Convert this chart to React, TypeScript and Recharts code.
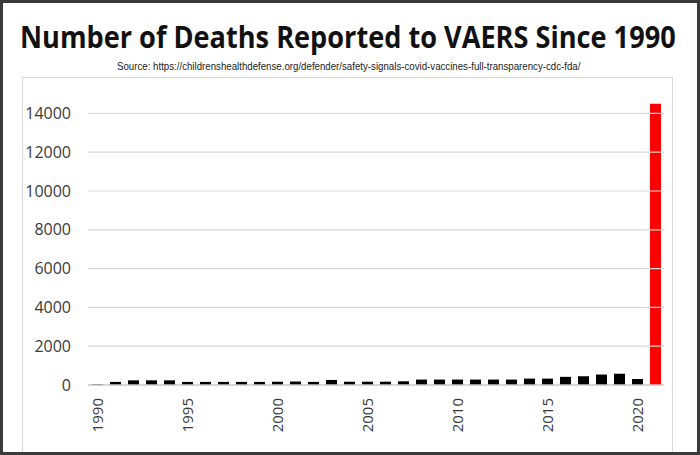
import React, { useLayoutEffect, useRef, useState } from 'react';
import { BarChart, Bar, XAxis, YAxis, ReferenceLine, Cell } from 'recharts';

const years = [
  '1990', '1991', '1992', '1993', '1994', '1995', '1996', '1997', '1998', '1999',
  '2000', '2001', '2002', '2003', '2004', '2005', '2006', '2007', '2008', '2009',
  '2010', '2011', '2012', '2013', '2014', '2015', '2016', '2017', '2018', '2019',
  '2020', '2021',
];
const deaths = [
  40, 160, 240, 240, 240, 160, 160, 160, 160, 160,
  170, 180, 160, 260, 170, 170, 170, 190, 280, 280,
  280, 280, 280, 280, 330, 330, 420, 450, 540, 580,
  310, 14500,
];
const yTicks = [0, 2000, 4000, 6000, 8000, 10000, 12000, 14000];
const labeledYears = ['1990', '1995', '2000', '2005', '2010', '2015', '2020'];
const highlightYear = '2021';

const data = years.map((year, i) => ({ year, deaths: deaths[i] }));

const XTick = (props: any) => {
  const { x, y, payload } = props;
  if (!labeledYears.includes(payload.value)) return <g />;
  const ty = y + 13;
  return (
    <text
      x={x + 1}
      y={ty}
      transform={`rotate(-90, ${x + 1}, ${ty})`}
      textAnchor="end"
      dy="0.36em"
      fill="#3a3a3a"
      fontFamily="'Open Sans', sans-serif"
      fontSize={15}
    >
      {payload.value}
    </text>
  );
};

const FitText = (props: any) => {
  const { x, y, width, children, ...rest } = props;
  const ref = useRef<SVGTextElement>(null);
  const [sx, setSx] = useState(1);
  useLayoutEffect(() => {
    if (ref.current) {
      const len = ref.current.getComputedTextLength();
      if (len > 0) setSx(width / len);
    }
  }, [width]);
  return (
    <text ref={ref} transform={`translate(${x}, ${y}) scale(${sx}, 1)`} x={0} y={0} {...rest}>
      {children}
    </text>
  );
};

export default function App() {
  return (
    <div
      style={{
        position: 'absolute',
        left: 0,
        top: 0,
        width: 700,
        height: 455,
        background: '#fff',
        overflow: 'hidden',
      }}
    >
      <div
        style={{
          position: 'absolute',
          left: 22,
          top: 77,
          width: 651,
          height: 400,
          border: '1.5px solid #d9d9d9',
          boxSizing: 'border-box',
        }}
      />
      <svg
        width={700}
        height={90}
        style={{ position: 'absolute', left: 0, top: 0 }}
      >
        <FitText
          x={20}
          y={48}
          width={656}
          fontFamily="'Open Sans', sans-serif"
          fontWeight={700}
          fontSize={31}
          fill="#111"
        >
          Number of Deaths Reported to VAERS Since 1990
        </FitText>
        <FitText
          x={117}
          y={70}
          width={464}
          fontFamily="'Liberation Sans', Arial, sans-serif"
          fontSize={10.5}
          fill="#222"
        >
          Source: https://childrenshealthdefense.org/defender/safety-signals-covid-vaccines-full-transparency-cdc-fda/
        </FitText>
      </svg>
      <div style={{ position: 'absolute', left: 0, top: 0 }}>
        <BarChart
          width={700}
          height={455}
          data={data}
          margin={{ top: 94, right: 36, bottom: 0, left: 28 }}
          barSize={11}
        >
          {yTicks.slice(1).map((v) => (
            <ReferenceLine key={v} y={v} stroke="#d9d9d9" strokeWidth={1.2} />
          ))}
          <XAxis
            dataKey="year"
            interval={0}
            height={70}
            tickLine={false}
            tickSize={0}
            tickMargin={0}
            stroke="#c8c8c8"
            strokeWidth={1.5}
            tick={<XTick />}
          />
          <YAxis
            width={60}
            domain={[0, 15000]}
            ticks={yTicks}
            axisLine={false}
            tickLine={false}
            tickSize={0}
            tickMargin={17}
            tick={{ fill: '#3a3a3a', fontSize: 16, fontFamily: "'Open Sans', sans-serif" }}
          />
          <Bar dataKey="deaths" isAnimationActive={false}>
            {data.map((d) => (
              <Cell key={d.year} fill={d.year === highlightYear ? '#ff0000' : '#000000'} />
            ))}
          </Bar>
        </BarChart>
      </div>
      <div
        style={{
          position: 'absolute',
          left: 0,
          top: 0,
          width: 700,
          height: 455,
          border: '3px solid #3a3a3a',
          boxSizing: 'border-box',
          pointerEvents: 'none',
        }}
      />
    </div>
  );
}
